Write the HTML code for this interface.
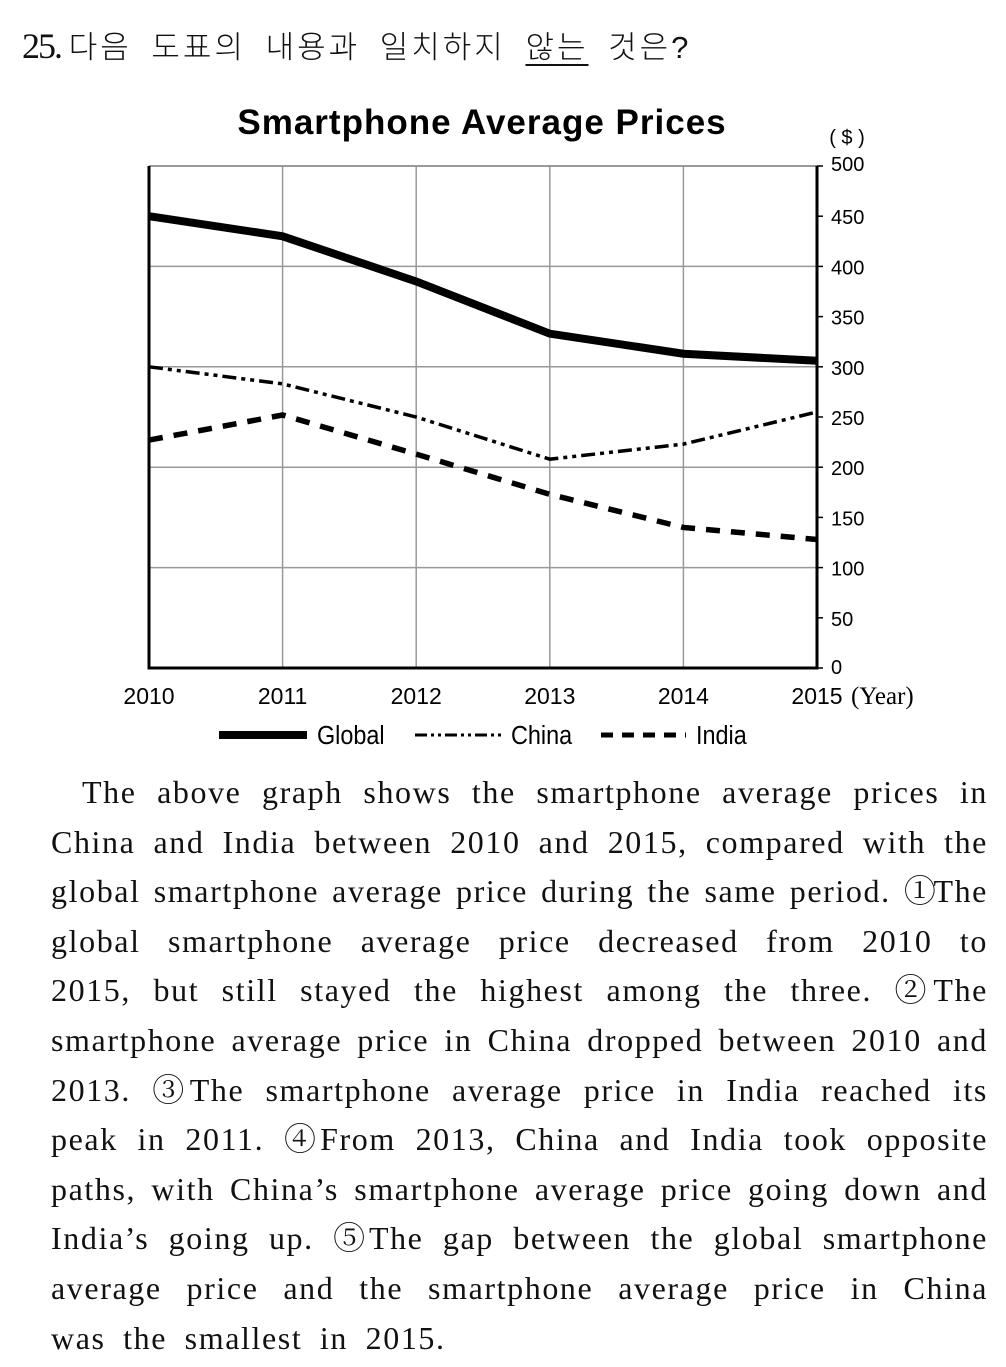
<!DOCTYPE html>
<html><head><meta charset="utf-8"><style>
body{margin:0;width:1006px;height:1367px;background:#fff;position:relative;overflow:hidden;color:#111}
.q{position:absolute;left:22px;top:22px;font-family:"Liberation Serif","Noto Sans CJK KR",serif;font-size:31px;white-space:nowrap}
.q b{font-family:"Liberation Serif",serif;font-size:36px;font-weight:normal;letter-spacing:-2px}
.q .k{font-family:"Liberation Sans","Noto Sans CJK KR",sans-serif;font-weight:300;letter-spacing:3px;word-spacing:8px}
.q u{text-decoration-thickness:2px;text-underline-offset:6px}
.p{position:absolute;left:51px;width:937px;top:768px;font-family:"Liberation Serif","Noto Serif CJK SC",serif;font-size:32px;letter-spacing:1.6px}
.p div{height:49.6px;line-height:49.6px;text-align:justify;text-align-last:justify;white-space:nowrap}
.p div.last{text-align-last:left;word-spacing:8px}
.c{letter-spacing:0;margin-right:-6px}
</style></head><body>
<div class="q"><b>25.</b> <span class="k">다음 도표의 내용과 일치하지 <u>않는</u> 것은?</span></div>
<svg width="1006" height="760" style="position:absolute;left:0;top:0">
<text x="482" y="134" text-anchor="middle" font-family="Liberation Sans" font-weight="bold" font-size="35" letter-spacing="1">Smartphone Average Prices</text>
<text x="847" y="144" text-anchor="middle" font-family="Liberation Sans" font-size="20">( $ )</text>
<g id="grid"></g><g id="series"></g><g id="axes"></g>
<g font-family="Liberation Sans" font-size="26">
<line x1="219" y1="735" x2="307" y2="735" stroke="#000" stroke-width="8"/>
<text x="317" y="744" transform="scale(0.9,1)" transform-origin="317 744">Global</text>
<line x1="415" y1="735" x2="502" y2="735" stroke="#000" stroke-width="3" stroke-dasharray="12,4,3,4,3,4"/>
<text x="511" y="744" transform="scale(0.9,1)" transform-origin="511 744">China</text>
<line x1="601" y1="735" x2="686" y2="735" stroke="#000" stroke-width="5" stroke-dasharray="12,9"/>
<text x="696" y="744" transform="scale(0.9,1)" transform-origin="696 744">India</text>
</g>
</svg>
<div class="p">
<div style="padding-left:31px">The above graph shows the smartphone average prices in</div>
<div>China and India between 2010 and 2015, compared with the</div>
<div>global smartphone average price during the same period. <span class="c">①</span>The</div>
<div>global smartphone average price decreased from 2010 to</div>
<div>2015, but still stayed the highest among the three. <span class="c">②</span>The</div>
<div>smartphone average price in China dropped between 2010 and</div>
<div>2013. <span class="c">③</span>The smartphone average price in India reached its</div>
<div>peak in 2011. <span class="c">④</span>From 2013, China and India took opposite</div>
<div>paths, with China’s smartphone average price going down and</div>
<div>India’s going up. <span class="c">⑤</span>The gap between the global smartphone</div>
<div>average price and the smartphone average price in China</div>
<div class="last">was the smallest in 2015.</div>
</div>
<script>
const years=[2010,2011,2012,2013,2014,2015];
const globalPrices=[450,430,385,333,313,306];
const chinaPrices=[300,283,250,208,223,255];
const indiaPrices=[227,252,213,173,140,128];
const yTicks=[0,50,100,150,200,250,300,350,400,450,500];
const NS="http://www.w3.org/2000/svg";
const X0=149,X1=817,Y0=668,Y1=166;
const x=i=>X0+(X1-X0)*i/(years.length-1);
const y=v=>Y0-(Y0-Y1)*v/500;
function mk(t,a,p){const e=document.createElementNS(NS,t);for(const k in a)e.setAttribute(k,a[k]);p.appendChild(e);return e;}
const grid=document.getElementById('grid'),ser=document.getElementById('series'),ax=document.getElementById('axes');
yTicks.forEach(v=>{if(v%100===0&&v>0){const l=mk('line',{x1:X0,x2:X1,y1:y(v),y2:y(v),stroke:'#999','stroke-width':1.5},grid);

}
const t=mk('line',{x1:X1,x2:X1+6,y1:y(v),y2:y(v),stroke:'#000','stroke-width':1.5},ax);


const tx=mk('text',{x:X1+14,y:y(v)+(v===500?5:v===0?6:8),'font-family':'Liberation Sans','font-size':20},ax);tx.textContent=v;

});
years.forEach((yr,i)=>{if(i>0&&i<years.length-1){const l=mk('line',{x1:x(i),x2:x(i),y1:Y1,y2:Y0,stroke:'#999','stroke-width':1.5},grid);

}
const t=mk('text',{x:x(i),y:704,'text-anchor':'middle','font-family':'Liberation Sans','font-size':23},ax);t.textContent=yr;

});
const yl=mk('text',{x:x(5)+34,y:704,'font-family':'Liberation Serif','font-size':25},ax);yl.textContent='(Year)';


const tb=mk('line',{x1:X0,x2:X1,y1:Y1,y2:Y1,stroke:'#888','stroke-width':1.5},grid);


const fr=mk('path',{d:`M${X0} ${Y1} V${Y0} H${X1} V${Y1}`,fill:'none',stroke:'#000','stroke-width':3},ax);


function line(vals,w,dash,name){const p=mk('polyline',{points:vals.map((v,i)=>x(i)+','+y(v)).join(' '),fill:'none',stroke:'#000','stroke-width':w,'stroke-dasharray':dash},ser);

}
line(globalPrices,8,'none','global-line');
line(chinaPrices,3.5,'14,5,4,5,4,5','china-line');
line(indiaPrices,5.5,'14,11','india-line');
</script>
</body></html>
